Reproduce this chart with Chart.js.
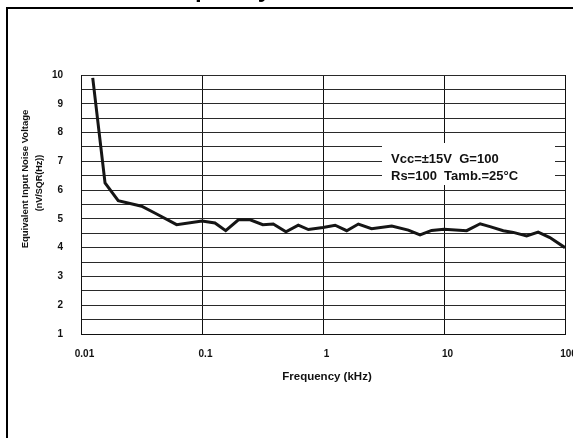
<!DOCTYPE html>
<html>
<head>
<meta charset="utf-8">
<script src="https://cdn.jsdelivr.net/npm/chart.js@4.4.1/dist/chart.umd.min.js"></script>
<style>
    body { margin: 0; background: #fff; }
    canvas { display: block; }
</style>
</head>
<body>
<canvas id="noiseChart" width="573" height="438"></canvas>
<script>
// Frequency in kHz, noise in nV/sqrt(Hz)
const frequency = [0.0125, 0.0158, 0.0203, 0.0317, 0.0422, 0.0617, 0.1, 0.128, 0.157, 0.2,
    0.25, 0.318, 0.388, 0.494, 0.625, 0.757, 1.0, 1.26, 1.57, 1.96,
    2.52, 3.7, 5.07, 6.34, 7.9, 10, 15.4, 19.9, 24, 30.9,
    37.4, 48.2, 60, 75, 100];
const noise = [9.9, 6.25, 5.63, 5.44, 5.17, 4.8, 4.93, 4.86, 4.59, 4.97,
    4.97, 4.8, 4.82, 4.55, 4.78, 4.63, 4.7, 4.78, 4.59, 4.82,
    4.66, 4.75, 4.61, 4.44, 4.6, 4.64, 4.59, 4.83, 4.73, 4.59,
    4.53, 4.41, 4.54, 4.35, 4.0];
const xTicks = [0.01, 0.1, 1, 10, 100];
const yTicks = [1, 1.5, 2, 2.5, 3, 3.5, 4, 4.5, 5, 5.5, 6, 6.5, 7, 7.5, 8, 8.5, 9, 9.5, 10];
const conditions = ['Vcc=±15V  G=100', 'Rs=100  Tamb.=25°C'];

const chartTitle = 'Noise vs. Frequency';
const xTitle = 'Frequency (kHz)';
const yTitle = ['Equivalent Input Noise Voltage', '(nV/SQR(Hz))'];

const FONT = '"Liberation Sans", Arial, sans-serif';

// extra drawing: condition box, axis titles, page frame
const extras = {
    id: 'extras',
    beforeDatasetsDraw(chart) {
        const ctx = chart.ctx;
        ctx.save();
        ctx.fillStyle = '#fff';
        ctx.fillRect(382, 143, 173, 42);
        ctx.fillStyle = '#111';
        ctx.font = 'bold 13px ' + FONT;
        ctx.textBaseline = 'alphabetic';
        ctx.fillText(conditions[0], 391, 163);
        ctx.fillText(conditions[1], 391, 180);
        ctx.restore();
    },
    afterDraw(chart) {
        const ctx = chart.ctx;
        ctx.save();
        ctx.fillStyle = '#000';
        // page frame
        ctx.fillRect(6, 7, 567, 2);
        ctx.fillRect(6, 7, 2, 431);

        // title, almost all of it above the page
        ctx.font = 'bold 24px ' + FONT;
        ctx.textBaseline = 'alphabetic';
        const pre = ctx.measureText('Noise vs. Fre').width;
        const q = ctx.measureText('q').width;
        ctx.fillText(chartTitle, 198 - pre - q * 0.75, -3.5);

        // x axis title
        ctx.fillStyle = '#111';
        ctx.font = 'bold 11.5px ' + FONT;
        ctx.textAlign = 'center';
        ctx.textBaseline = 'middle';
        ctx.fillText(xTitle, 327, 377);

        // y axis title, two lines
        ctx.save();
        ctx.translate(25, 179);
        ctx.rotate(-Math.PI / 2);
        ctx.font = 'bold 9.5px ' + FONT;
        ctx.fillText(yTitle[0], 0, 0);
        ctx.restore();
        ctx.save();
        ctx.translate(40, 183);
        ctx.rotate(-Math.PI / 2);
        ctx.font = 'bold 9px ' + FONT;
        ctx.fillText(yTitle[1], 0, 0);
        ctx.restore();
        ctx.restore();
    }
};

const points = frequency.map((f, i) => ({ x: f, y: noise[i] }));

new Chart(document.getElementById('noiseChart'), {
    type: 'line',
    data: {
        datasets: [{
            data: points,
            borderColor: '#151515',
            borderWidth: 3,
            pointRadius: 0,
            tension: 0,
            fill: false
        }]
    },
    options: {
        responsive: false,
        animation: false,
        layout: { padding: { left: 0, top: 75, right: 8, bottom: 0 } },
        plugins: {
            legend: { display: false },
            tooltip: { enabled: false }
        },
        scales: {
            x: {
                type: 'logarithmic',
                min: 0.01,
                max: 100,
                afterBuildTicks: (s) => { s.ticks = xTicks.map(v => ({ value: v })); },
                afterFit: (s) => { s.height = 104; s.paddingLeft = 0; s.paddingRight = 0; },
                grid: { color: '#111', lineWidth: 1, drawTicks: false },
                border: { color: '#111', width: 1 },
                ticks: {
                    padding: 14,
                    labelOffset: 3.5,
                    maxRotation: 0,
                    autoSkip: false,
                    color: '#111',
                    font: { family: FONT, size: 10, weight: 'bold' },
                    callback: (v) => String(v)
                }
            },
            y: {
                type: 'linear',
                min: 1,
                max: 10,
                afterBuildTicks: (s) => { s.ticks = yTicks.map(v => ({ value: v })); },
                afterFit: (s) => { s.width = 81; },
                grid: { color: '#2a2a2a', lineWidth: 1, drawTicks: false },
                border: { color: '#111', width: 1 },
                ticks: {
                    padding: 18,
                    autoSkip: false,
                    color: '#111',
                    font: { family: FONT, size: 10, weight: 'bold' },
                    callback: (v) => Number.isInteger(v) ? String(v) : ''
                }
            }
        }
    },
    plugins: [extras]
});
</script>
</body>
</html>
